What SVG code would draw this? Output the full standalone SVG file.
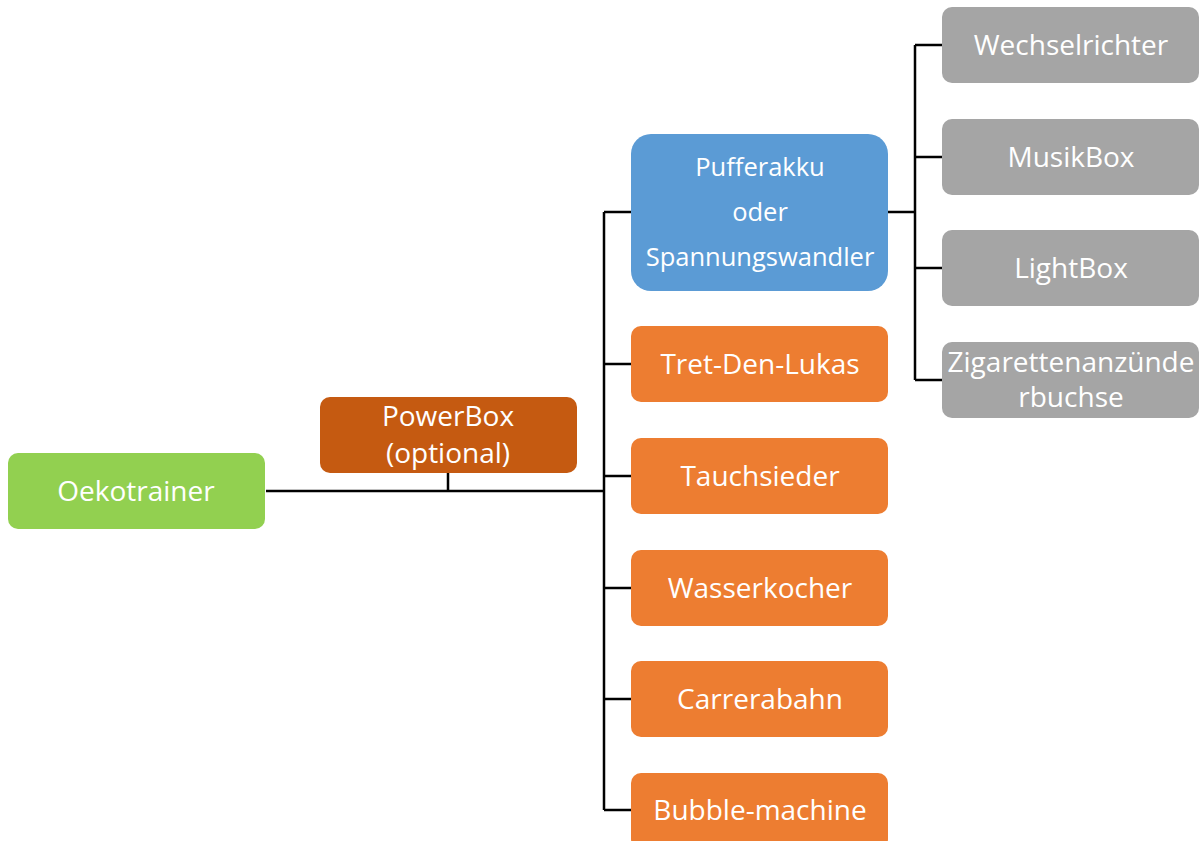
<svg xmlns="http://www.w3.org/2000/svg" width="1200" height="841" viewBox="0 0 1200 841">
<style>
.t{font-family:"Open Sans","Noto Sans",sans-serif;font-size:28px;fill:#fff;text-anchor:middle}
.s{font-size:25.5px}
.c{stroke:#000;stroke-width:2.5;fill:none}
.g{fill:#92D050}.p{fill:#C55A11}.b{fill:#5B9BD5}.o{fill:#ED7D31}.y{fill:#A5A5A5}
</style>
<rect width="1200" height="841" fill="#fff"/>
<g id="connectors" class="c">
<path d="M266 491H604M448 473V491M604 212V810M604 212H631M604 364H631M604 476H631M604 588H631M604 699H631M604 810H631"/>
<path d="M888 212H915M915 45V380M915 45H942M915 157H942M915 268H942M915 380H942"/>
</g>
<g id="oekotrainer"><rect class="g" x="8" y="453" width="257" height="76" rx="10"/><text class="t" x="136" y="501">Oekotrainer</text></g>
<g id="powerbox"><rect class="p" x="320" y="397" width="257" height="76" rx="10"/><text class="t" x="448" y="426">PowerBox</text><text class="t" x="448" y="463">(optional)</text></g>
<g id="pufferakku"><rect class="b" x="631" y="134" width="257" height="157" rx="20"/><text class="t s" x="760" y="176">Pufferakku</text><text class="t s" x="760" y="221">oder</text><text class="t s" x="760" y="266">Spannungswandler</text></g>
<g id="tret"><rect class="o" x="631" y="326" width="257" height="76" rx="10"/><text class="t" x="760" y="374">Tret-Den-Lukas</text></g>
<g id="tauchsieder"><rect class="o" x="631" y="438" width="257" height="76" rx="10"/><text class="t" x="760" y="486">Tauchsieder</text></g>
<g id="wasserkocher"><rect class="o" x="631" y="550" width="257" height="76" rx="10"/><text class="t" x="760" y="598">Wasserkocher</text></g>
<g id="carrerabahn"><rect class="o" x="631" y="661" width="257" height="76" rx="10"/><text class="t" x="760" y="709">Carrerabahn</text></g>
<g id="bubble"><rect class="o" x="631" y="773" width="257" height="76" rx="10"/><text class="t" x="760" y="820">Bubble-machine</text></g>
<g id="wechselrichter"><rect class="y" x="942" y="7" width="257" height="76" rx="10"/><text class="t" x="1071" y="55">Wechselrichter</text></g>
<g id="musikbox"><rect class="y" x="942" y="119" width="257" height="76" rx="10"/><text class="t" x="1071" y="167">MusikBox</text></g>
<g id="lightbox"><rect class="y" x="942" y="230" width="257" height="76" rx="10"/><text class="t" x="1071" y="278">LightBox</text></g>
<g id="zigarette"><rect class="y" x="942" y="342" width="257" height="76" rx="10"/><text class="t" x="1071" y="372">Zigarettenanzünde</text><text class="t" x="1071" y="407">rbuchse</text></g>
</svg>
